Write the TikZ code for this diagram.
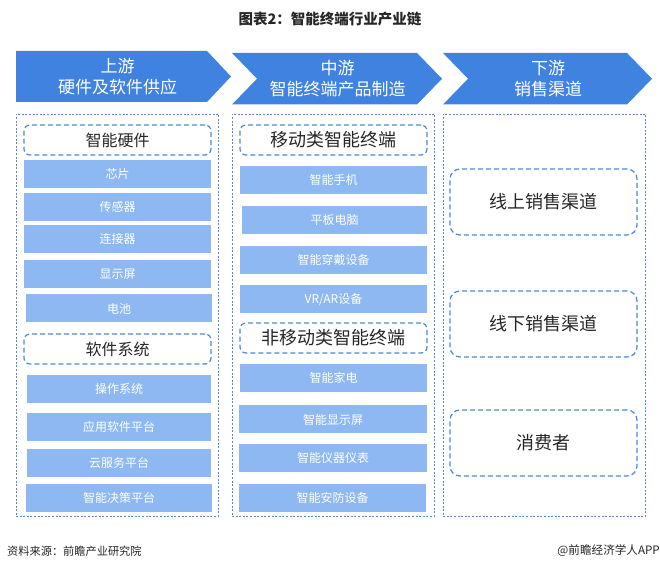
\documentclass[tikz,border=0pt]{standalone}
\usepackage{fontspec}
\setmainfont{Noto Sans CJK SC}
\usepackage{xcolor}
\definecolor{chainblue}{HTML}{3F82DF}
\definecolor{barblue}{HTML}{8DB8F1}
\definecolor{dashblue}{HTML}{4A88D8}
\definecolor{dotblue}{HTML}{5C86BC}
\definecolor{inktext}{HTML}{262626}

\begin{document}
\begin{tikzpicture}[x=1pt, y=1pt, node distance=34pt,
    stage/.style={fill=chainblue},
    stagetext/.style={align=center, text=white, font=\fontsize{17}{21}\selectfont},
    column/.style={rectangle, draw=dotblue, line width=0.8pt, dash pattern=on 2pt off 1.6pt,
                   minimum width=202.5pt, minimum height=402pt, inner sep=0pt},
    headbox/.style={rectangle, draw=dashblue, line width=1.2pt, dash pattern=on 5pt off 3pt,
                    rounded corners=6pt, minimum width=187pt, minimum height=30pt, inner sep=0pt,
                    text=inktext, font=\fontsize{18}{20}\selectfont},
    barbox/.style={rectangle, fill=barblue, minimum width=187pt, minimum height=28pt, inner sep=0pt,
                   text=white, font=\fontsize{12}{14}\selectfont},
    channel/.style={headbox, rounded corners=10pt, minimum height=66pt}]
    \useasboundingbox (0,0) rectangle (660,569);
    \node[font=\fontsize{14.5}{16}\selectfont\bfseries, text=inktext] (title) at (330,550) {图表2：智能终端行业产业链};

    % chain
    \fill[stage] (16,518) -- (207,518) -- (231,492.5) -- (207,467) -- (16,467) -- cycle;
    \fill[stage] (232,516) -- (417,516) -- (442,490.25) -- (417,464.5) -- (232,464.5) -- (257,490.25) -- cycle;
    \fill[stage] (443,516) -- (627,516) -- (652,490.25) -- (627,464.5) -- (443,464.5) -- (468,490.25) -- cycle;
    \node[stagetext] (upstream) at (117.5,492) {上游\\硬件及软件供应};
    \node[stagetext] (midstream) at (337.5,490.5) {中游\\智能终端产品制造};
    \node[stagetext] (downstream) at (548,490.5) {下游\\销售渠道};

    \node[column] (colup) at (117.25,254) {};
    \node[column] (colmid) at (333.25,254) {};
    \node[column] (coldown) at (544.5,254) {};

    % upstream
    \node[headbox, font=\fontsize{16}{18}\selectfont] (hardware) at (117.5,429) {智能硬件};
    \node[barbox, below of=hardware] (chip) {芯片};
    \node[barbox, below of=chip, node distance=33pt] (sensor) {传感器};
    \node[barbox, below of=sensor, node distance=32pt] (connector) {连接器};
    \node[barbox, below of=connector, node distance=35pt] (screen) {显示屏};
    \node[barbox, below of=screen, node distance=34.5pt, xshift=1.5pt, minimum width=186pt] (battery) {电池};
    \node[headbox, font=\fontsize{16}{18}\selectfont, below of=battery, node distance=40.5pt, xshift=-1.5pt] (software) {软件系统};
    \node[barbox, below of=software, node distance=40pt, xshift=1.5pt, minimum width=184pt] (os) {操作系统};
    \node[barbox, below of=os, node distance=38pt, minimum width=184pt] (appplat) {应用软件平台};
    \node[barbox, below of=appplat, node distance=36pt, minimum width=184pt] (cloud) {云服务平台};
    \node[barbox, below of=cloud, node distance=35pt, minimum width=186pt] (decision) {智能决策平台};

    % midstream
    \node[headbox] (mobile) at (333.5,429) {移动类智能终端};
    \node[barbox, below of=mobile, node distance=40pt] (phone) {智能手机};
    \node[barbox, below of=phone, node distance=40pt, xshift=1pt, minimum width=185pt] (tablet) {平板电脑};
    \node[barbox, below of=tablet, node distance=40pt, xshift=-1pt] (wearable) {智能穿戴设备};
    \node[barbox, below of=wearable, node distance=39.5pt] (vrar) {VR/AR设备};
    \node[headbox, below of=vrar, node distance=38.5pt] (nonmobile) {非移动类智能终端};
    \node[barbox, below of=nonmobile, node distance=40pt] (appliance) {智能家电};
    \node[barbox, below of=appliance, node distance=41.5pt, xshift=-0.5pt, minimum width=188pt] (display) {智能显示屏};
    \node[barbox, below of=display, node distance=38.5pt, minimum width=188pt] (meter) {智能仪器仪表};
    \node[barbox, below of=meter, node distance=40pt, xshift=-0.5pt] (security) {智能安防设备};

    % downstream
    \node[channel] (online) at (543.5,367) {线上销售渠道};
    \node[channel, below of=online, node distance=122pt] (offline) {线下销售渠道};
    \node[channel, below of=offline, node distance=119pt] (consumer) {消费者};

    \node[anchor=west, inner sep=0pt, font=\fontsize{11.2}{13}\selectfont, text=inktext] (source) at (7,18) {资料来源：前瞻产业研究院};
    \node[anchor=east, inner sep=0pt, font=\fontsize{11.6}{13}\selectfont, text=inktext] (brand) at (660,18) {@前瞻经济学人APP};
\end{tikzpicture}
\end{document}
